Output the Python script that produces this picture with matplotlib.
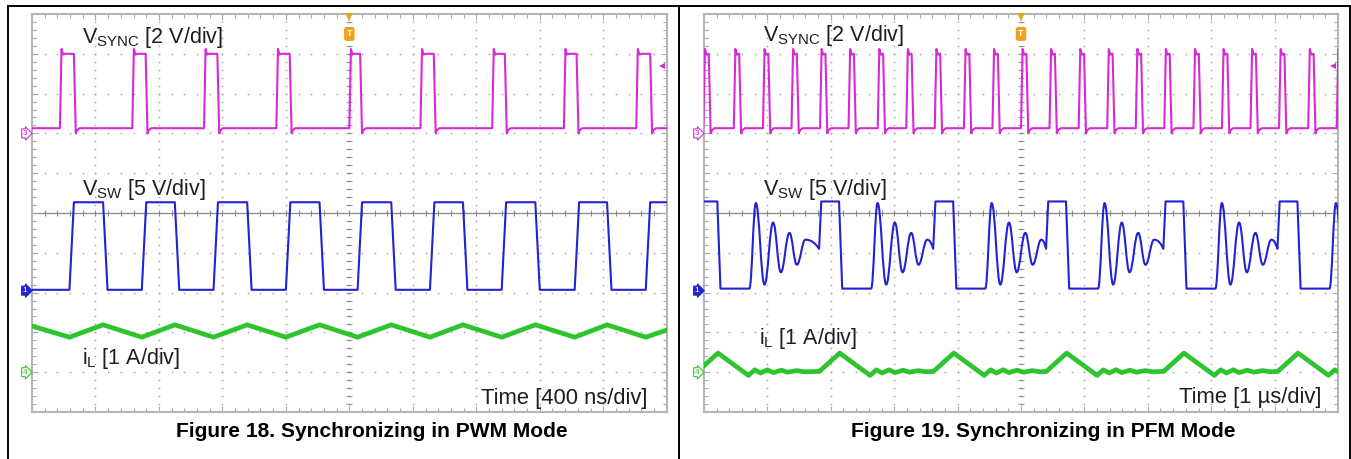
import numpy as np
import matplotlib
matplotlib.use('Agg')
import matplotlib.pyplot as plt
from matplotlib.path import Path
from matplotlib.patches import PathPatch
from matplotlib.ticker import MultipleLocator
from matplotlib.lines import Line2D

plt.rcParams['font.family'] = ['Liberation Sans', 'DejaVu Sans']
plt.rcParams['mathtext.fontset'] = 'custom'
plt.rcParams['mathtext.rm'] = 'Liberation Sans'
plt.rcParams['mathtext.it'] = 'Liberation Sans:italic'
plt.rcParams['mathtext.bf'] = 'Liberation Sans:bold'

# ---------------- data (time in divisions, amplitude in divisions) ----------------
# Figure 18: PWM mode, 400 ns/div
pwm_sync_rise = [0.44, 1.58, 2.71, 3.85, 5.00, 6.12, 7.25, 8.38, 9.52]
pwm_sync_fall = [0.66, 1.79, 2.92, 4.06, 5.17, 6.33, 7.45, 8.58, 9.74]
pwm_sw_rise = [0.59, 1.73, 2.86, 4.00, 5.13, 6.27, 7.40, 8.55, 9.67]
pwm_sw_fall = [1.12, 2.25, 3.39, 4.53, 5.66, 6.79, 7.93, 9.06]
pwm_il_t = [0.0, 0.59, 1.12, 1.73, 2.25, 2.86, 3.39, 4.00, 4.53, 5.13, 5.66,
            6.27, 6.79, 7.40, 7.93, 8.55, 9.06, 9.67, 10.0]
pwm_il_v = [-2.84, -3.12, -2.81, -3.12, -2.81, -3.12, -2.81, -3.12, -2.81, -3.12, -2.81,
            -3.12, -2.81, -3.12, -2.81, -3.12, -2.81, -3.12, -2.94]

# Figure 19: PFM mode, 1 us/div
pfm_sync_rise = [-0.01, 0.47, 0.93, 1.38, 1.83, 2.28, 2.74, 3.19, 3.64, 4.10, 4.55,
                 5.00, 5.45, 5.91, 6.36, 6.81, 7.26, 7.72, 8.17, 8.62, 9.07, 9.53, 9.98]
pfm_sync_width = 0.085
pfm_sw_rise = [-0.10, 1.82, 3.62, 5.40, 7.25, 9.05]
pfm_sw_high_time = 0.33
pfm_sw_ring_start = 0.816
pfm_ring_dt = [0.918, 1.054, 1.190, 1.312, 1.448, 1.564, 1.700]
pfm_ring_v = [0.25, -1.80, -0.24, -1.49, -0.50, -1.30, -0.67]
pfm_ring_cut_v = -0.90
pfm_il_dt = [0.00, 0.32, 0.80, 0.90, 0.99, 1.10, 1.19, 1.32, 1.42, 1.56, 1.68]
pfm_il_v = [-3.98, -3.52, -4.08, -3.94, -4.02, -3.94, -4.01, -3.95, -4.00, -3.96, -3.99]

# levels
sync_low, sync_high = 2.13, 4.00
sw_low, sw_high = -1.93, 0.27
pfm_sw_low, pfm_sw_high = -1.90, 0.29

MAG = '#d62ad6'
BLUE = '#2323d2'
GREEN = '#2ec42e'
GRID = '#a9a9a9'

fig = plt.figure(figsize=(13.51, 4.59), dpi=100)
W, H = 1351.0, 459.0


def fx(px):
    return px / W


def fy(py):
    return 1 - py / H


# panel frames
for seg in [((8, 8), (6, 459)), ((8, 1350), (6, 6)), ((679, 679), (6, 459)),
            ((1349.5, 1349.5), (6, 459))]:
    fig.add_artist(Line2D([fx(v) for v in seg[0]], [fy(v) for v in seg[1]],
                          color='black', lw=1.4, transform=fig.transFigure))


def make_axes(x0, x1, y0=14, y1=412):
    ax = fig.add_axes([fx(x0), fy(y1), fx(x1) - fx(x0), fy(y0) - fy(y1)])
    ax.set_xlim(0, 10)
    ax.set_ylim(-5, 5)
    ax.xaxis.set_major_locator(MultipleLocator(1))
    ax.yaxis.set_major_locator(MultipleLocator(1))
    ax.xaxis.set_minor_locator(MultipleLocator(0.2))
    ax.yaxis.set_minor_locator(MultipleLocator(0.2))
    ax.tick_params(which='both', direction='in', top=True, right=True,
                   labelbottom=False, labelleft=False, color=GRID, width=0.8)
    ax.tick_params(which='major', length=4)
    ax.tick_params(which='minor', length=3)
    for s in ax.spines.values():
        s.set_color('#b5b5b5')
        s.set_linewidth(1.5)
    # dotted grid
    ys = np.arange(-5, 5.001, 0.2)
    xs = np.arange(0, 10.001, 0.2)
    for xv in range(1, 10):
        if xv != 5:
            ax.plot(np.full(ys.size, xv), ys, ls='none', marker='s', ms=1.1,
                    mew=0, color=GRID, zorder=1)
    for yv in range(-4, 5):
        if yv != 0:
            ax.plot(xs, np.full(xs.size, yv), ls='none', marker='s', ms=1.1,
                    mew=0, color=GRID, zorder=1)
    # center cross
    ax.axhline(0, color='#8a8a8a', lw=0.9, zorder=1)
    ax.plot(xs, np.zeros(xs.size), ls='none', marker='|', ms=4, mew=0.8,
            color='#8a8a8a', zorder=1)
    ax.plot(np.full(ys.size, 5.0), ys, ls='none', marker='_', ms=4, mew=0.8,
            color='#9a9a9a', zorder=1)
    ax.plot(np.full(ys.size, 5.0), ys, ls='none', marker='s', ms=1.1, mew=0,
            color='#8a8a8a', zorder=1)
    # trigger marker
    ax.plot([5.0], [4.93], marker='v', ms=6, color='#f0a020', mew=0, clip_on=False, zorder=6)
    ax.text(5.0, 4.5, 'T', color='white', fontsize=6.5, fontweight='bold', ha='center',
            va='center', zorder=7,
            bbox=dict(boxstyle='round,pad=0.2', fc='#f0a020', ec='#f0a020'))
    return ax


def channel_marker(ax, y, label, color, filled=False):
    ax.text(-0.11, y, label, color='white' if filled else color, fontsize=6,
            ha='center', va='center', clip_on=False, zorder=7,
            bbox=dict(boxstyle='rarrow,pad=0.12', fc=color if filled else 'white',
                      ec=color, lw=0.8))


def sync_trace(rises, falls, low, high):
    t = [-1.0]
    v = [low]
    for r, f in zip(rises, falls):
        t += [r, r + 0.025, r + 0.05, r + 0.08, f, f + 0.03, f + 0.05, f + 0.09]
        v += [low, high + 0.12, high - 0.02, high, high, low - 0.13, low - 0.05, low]
    t.append(11.0)
    v.append(low)
    return t, v


def square_trace(rises, falls, low, high, edge):
    t = [-1.0]
    v = [low]
    for i, r in enumerate(rises):
        t += [r, r + edge]
        v += [low, high]
        if i < len(falls):
            t += [falls[i], falls[i] + edge]
            v += [high, low]
    t.append(11.0)
    v.append(v[-1])
    return t, v


# ---------------- Figure 18 ----------------
axL = make_axes(32, 666.7)
t, v = sync_trace(pwm_sync_rise, pwm_sync_fall, sync_low, sync_high)
axL.plot(t, v, color=MAG, lw=1.5, zorder=4)
t, v = square_trace(pwm_sw_rise, pwm_sw_fall, sw_low, sw_high, 0.07)
axL.plot(t, v, color=BLUE, lw=1.5, zorder=4)
axL.plot(pwm_il_t, pwm_il_v, color=GREEN, lw=3.4, zorder=4)

# ---------------- Figure 19 ----------------
axR = make_axes(704, 1338)
t, v = sync_trace(pfm_sync_rise, [r + pfm_sync_width for r in pfm_sync_rise],
                  sync_low, sync_high)
axR.plot(t, v, color=MAG, lw=1.5, zorder=4)

# switch node with ringing (drawn as path with curves)
verts = []
codes = []
first = pfm_sw_rise[0]
verts.append((first - 0.5, pfm_sw_low)); codes.append(Path.MOVETO)
verts.append((first, pfm_sw_low)); codes.append(Path.LINETO)
verts.append((first + 0.03, pfm_sw_high)); codes.append(Path.LINETO)
for k, t0 in enumerate(pfm_sw_rise):
    t1 = pfm_sw_rise[k + 1] if k + 1 < len(pfm_sw_rise) else 12.0
    verts.append((t0 + pfm_sw_high_time - 0.02, pfm_sw_high)); codes.append(Path.LINETO)
    verts.append((t0 + pfm_sw_high_time + 0.03, pfm_sw_low)); codes.append(Path.LINETO)
    verts.append((t0 + pfm_sw_ring_start, pfm_sw_low)); codes.append(Path.LINETO)
    tp, vp = t0 + pfm_sw_ring_start, pfm_sw_low
    for dt, rv in zip(pfm_ring_dt, pfm_ring_v):
        te = t0 + dt
        h = te - tp
        verts += [(tp + 0.4 * h, vp), (te - 0.4 * h, rv), (te, rv)]
        codes += [Path.CURVE4] * 3
        tp, vp = te, rv
    if t1 < 11:
        te = t1 - 0.005
        h = te - tp
        verts += [(tp + 0.5 * h, vp), (te - 0.2 * h, pfm_ring_cut_v + 0.1), (te, pfm_ring_cut_v)]
        codes += [Path.CURVE4] * 3
        verts.append((t1 + 0.03, pfm_sw_high)); codes.append(Path.LINETO)
axR.add_patch(PathPatch(Path(verts, codes), fill=False, ec=BLUE, lw=1.5, zorder=4,
                        joinstyle='round'))

# inductor current in PFM
il_t = []
il_v = []
for k, t0 in enumerate(pfm_sw_rise):
    for dt, iv in zip(pfm_il_dt, pfm_il_v):
        il_t.append(t0 + dt)
        il_v.append(iv)
il_t.append(11.0)
il_v.append(pfm_il_v[-1])
axR.plot(il_t, il_v, color=GREEN, lw=3.4, zorder=4)

# ---------------- labels / markers ----------------
lab = dict(fontsize=15.5, color='#1e1e1e', ha='left', va='baseline', zorder=8)
axL.text(0.79, 4.26, r'$\mathregular{V_{SYNC}}$ [2 V/div]', **lab)
axL.text(0.79, 0.45, r'$\mathregular{V_{SW}}$ [5 V/div]', **lab)
axL.text(0.79, -3.79, r'$\mathregular{i_{L}}$ [1 A/div]', **lab)
axL.text(9.70, -4.8, 'Time [400 ns/div]', fontsize=15.8, color='#1e1e1e', ha='right',
         va='baseline', zorder=8)
axR.text(0.93, 4.33, r'$\mathregular{V_{SYNC}}$ [2 V/div]', **lab)
axR.text(0.93, 0.46, r'$\mathregular{V_{SW}}$ [5 V/div]', **lab)
axR.text(0.87, -3.28, r'$\mathregular{i_{L}}$ [1 A/div]', **lab)
axR.text(9.74, -4.78, 'Time [1 µs/div]', fontsize=15.8, color='#1e1e1e', ha='right',
         va='baseline', zorder=8)

for ax in (axL, axR):
    channel_marker(ax, 2.0, '3', MAG)
    channel_marker(ax, -1.95, '1', BLUE, filled=True)
    channel_marker(ax, -4.0, '4', GREEN)
    ax.plot([9.92], [3.70], marker='<', ms=5, color=MAG, mew=0, zorder=6)

fig.text(fx(372), fy(437.3), 'Figure 18. Synchronizing in PWM Mode', fontsize=15.1,
         fontweight='bold', ha='center', va='baseline')
fig.text(fx(1043), fy(437.3), 'Figure 19. Synchronizing in PFM Mode', fontsize=15.1,
         fontweight='bold', ha='center', va='baseline')

fig.savefig('out.png', dpi=100)
